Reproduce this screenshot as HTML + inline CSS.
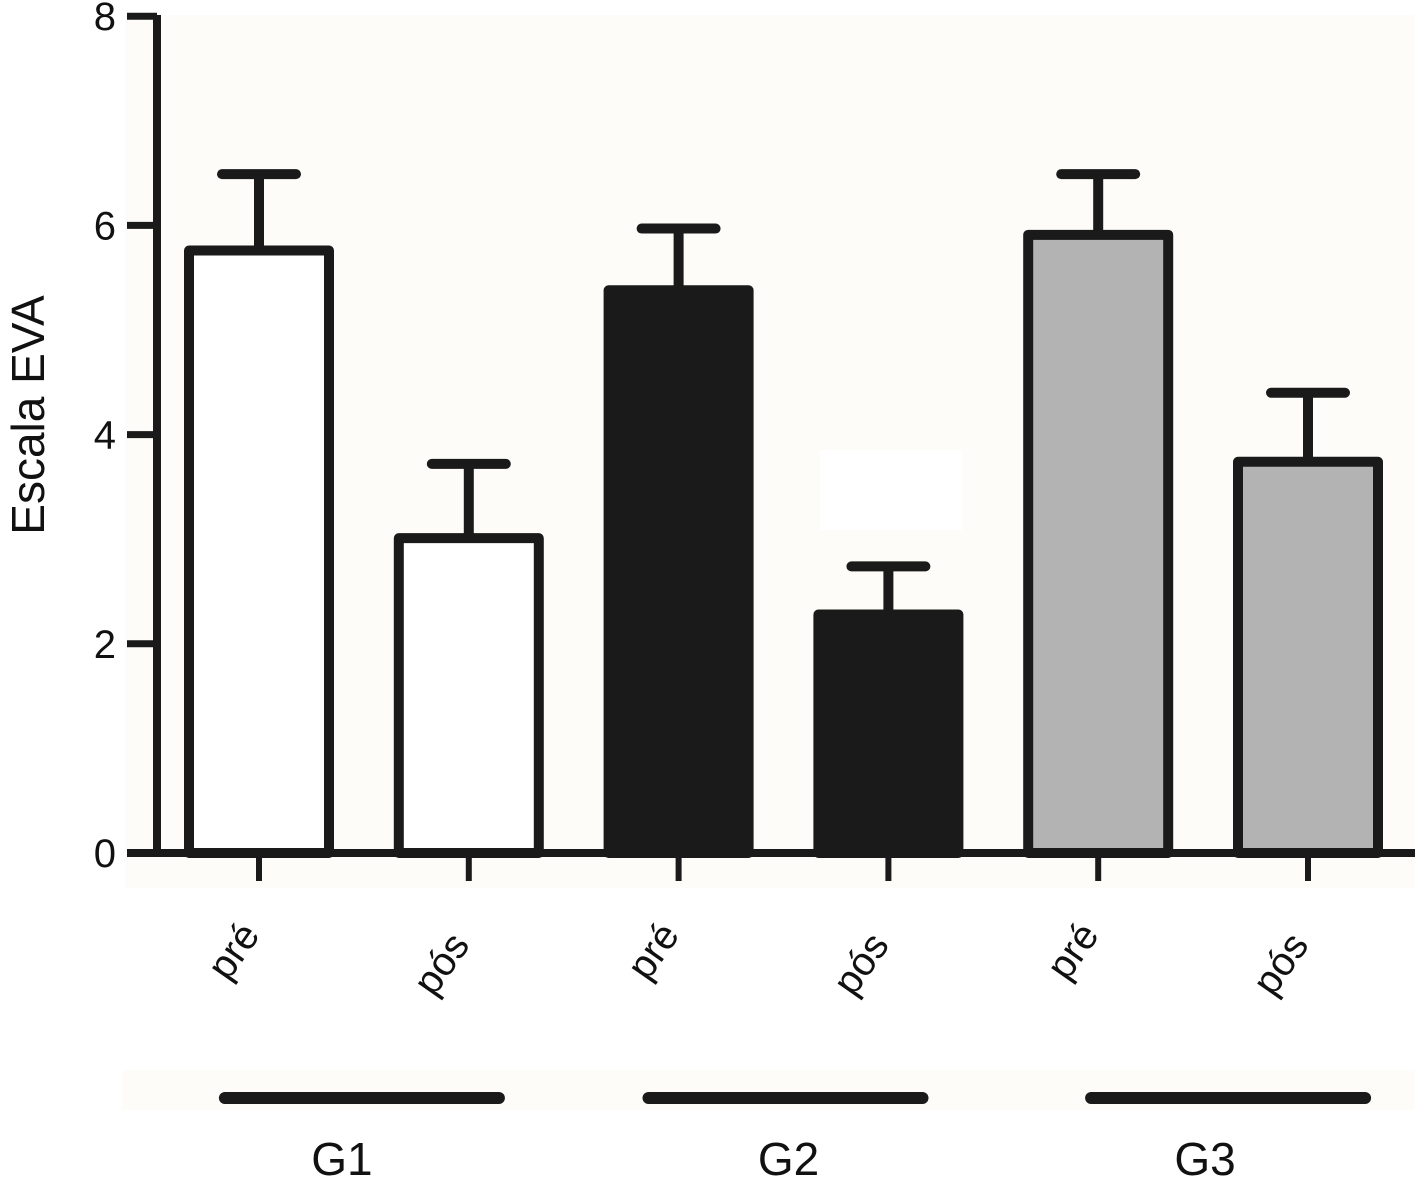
<!DOCTYPE html>
<html><head><meta charset="utf-8"><style>body{margin:0;background:#fff}svg{display:block}text{font-family:"Liberation Sans",sans-serif;fill:#111}</style></head>
<body>
<svg id="chart" width="1415" height="1184" viewBox="0 0 1415 1184">
<rect x="125" y="15" width="1290" height="873" fill="#fdfcf8"/>
<rect x="122" y="1070" width="1293" height="40" fill="#fdfcf8"/>
<rect x="820" y="450" width="142" height="80" fill="#fff"/>
<g id="bars"></g>
<g id="axes"></g>
</svg>
<script>
const categories=["pré","pós","pré","pós","pré","pós"];
const means=[5.76,3.01,5.38,2.28,5.91,3.74];
const errors=[0.73,0.71,0.59,0.46,0.58,0.66];
const fills=["#ffffff","#ffffff","#1a1a1a","#1a1a1a","#b3b3b3","#b3b3b3"];
const yTicks=[0,2,4,6,8];
const groups=["G1","G2","G3"];
const NS="http://www.w3.org/2000/svg";
const y0=853,pxPerUnit=104.6;
const yScale=v=>y0-v*pxPerUnit;
const xScale=i=>259+i*209.8;
const bars=document.getElementById('bars'),axes=document.getElementById('axes');
function mk(tag,attrs,parent){const e=document.createElementNS(NS,tag);for(const k in attrs)e.setAttribute(k,attrs[k]);parent.appendChild(e);return e;}
const bw=140;
categories.forEach((c,i)=>{
  const cx=xScale(i),top=yScale(means[i]),et=yScale(means[i]+errors[i]);
  const l=mk('line',{x1:cx,x2:cx,y1:top,y2:et,stroke:'#1a1a1a','stroke-width':10},bars);
  
  
  const cap=mk('line',{x1:cx-37,x2:cx+37,y1:et,y2:et,stroke:'#1a1a1a','stroke-width':10,'stroke-linecap':'round'},bars);
  
  
  const r=mk('rect',{x:cx-bw/2,y:top,width:bw,height:y0-top,fill:fills[i],stroke:'#1a1a1a','stroke-width':10,'stroke-linejoin':'round'},bars);
  
  
  const t=mk('line',{x1:cx,x2:cx,y1:y0,y2:y0+28,stroke:'#1a1a1a','stroke-width':6},axes);
  
  
  const tx=mk('text',{x:0,y:0,'font-size':40,'text-anchor':'end',transform:`translate(${cx+2},${i%2?945:935}) rotate(-55)`},axes);
  tx.textContent=c;
  
  
});
const ax=mk('line',{x1:157,x2:157,y1:15,y2:y0+4,stroke:'#1a1a1a','stroke-width':8},axes);


const xa=mk('line',{x1:127,x2:1415,y1:y0,y2:y0,stroke:'#1a1a1a','stroke-width':8},axes);


yTicks.forEach(v=>{
  const y=yScale(v);
  const t=mk('line',{x1:127,x2:157,y1:y,y2:y,stroke:'#1a1a1a','stroke-width':7},axes);
  
  
  const tx=mk('text',{x:116,y:y+14,'font-size':40,'text-anchor':'end'},axes);
  tx.textContent=v;
  
  
});
const bracketShift=[-2,2,25];
const labelShift=[-22,5,2];
groups.forEach((g,k)=>{
  const cx=(xScale(2*k)+xScale(2*k+1))/2;
  const l=mk('line',{x1:cx+bracketShift[k]-137,x2:cx+bracketShift[k]+137,y1:1098,y2:1098,stroke:'#1a1a1a','stroke-width':12,'stroke-linecap':'round'},axes);
  
  
  const t=mk('text',{x:cx+labelShift[k],y:1175,'font-size':46,'text-anchor':'middle'},axes);
  t.textContent=g;
  
  
});
const yt=mk('text',{x:0,y:0,'font-size':46,'text-anchor':'middle',transform:'translate(44,415) rotate(-90)'},axes);
yt.textContent='Escala EVA';


</script>
</body></html>
